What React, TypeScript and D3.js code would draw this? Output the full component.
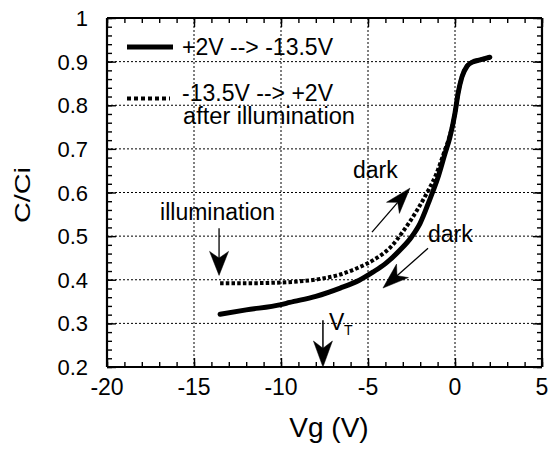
import React, { useEffect, useRef } from "react";
import * as d3 from "d3";

// Sweep +2V -> -13.5V (solid)
const solidVg = [-13.5, -12, -10, -9.5, -8, -6.6, -5.5, -4.7, -4, -3.16, -2.5, -2.0, -1.44, -1.0, -0.57, -0.29, 0, 0.18, 0.4, 0.7, 1.0, 1.44, 2.0];
const solidC = [0.321, 0.331, 0.343, 0.348, 0.362, 0.381, 0.399, 0.418, 0.437, 0.468, 0.498, 0.53, 0.585, 0.632, 0.69, 0.727, 0.782, 0.828, 0.865, 0.89, 0.899, 0.904, 0.91];

// Sweep -13.5V -> +2V after illumination (dotted)
const dotVg = [-13.5, -12, -10.5, -9, -7.6, -6.6, -5.6, -4.7, -3.7, -3.0, -2.2, -1.6, -1.1, -0.6, -0.3, 0, 0.18, 0.4, 0.7, 1.0, 1.44, 2.0];
const dotC = [0.392, 0.392, 0.393, 0.396, 0.403, 0.412, 0.427, 0.445, 0.475, 0.51, 0.558, 0.6, 0.64, 0.695, 0.73, 0.782, 0.828, 0.865, 0.89, 0.899, 0.904, 0.91];

const xTicks = [-20, -15, -10, -5, 0, 5];
const yTicks = [0.2, 0.3, 0.4, 0.5, 0.6, 0.7, 0.8, 0.9, 1];
const xGrid = [-15, -10, -5, 0];
const yGrid = [0.3, 0.4, 0.5, 0.6, 0.7, 0.8, 0.9];

const legendLabels = ["+2V --> -13.5V", "-13.5V --> +2V", "after illumination"];

const arrows = [
  [-4.77, 0.509, -2.59, 0.61],
  [-1.55, 0.472, -4.14, 0.381],
  [-13.56, 0.518, -13.56, 0.41],
  [-7.59, 0.307, -7.59, 0.2],
];
const arrowHeads = [[26, 17], [26, 18], [24, 19], [26, 19]];

const W = 555, H = 449;
const xs = d3.scaleLinear().domain([-20, 5]).range([107, 542]);
const ys = d3.scaleLinear().domain([0.2, 1]).range([367, 18]);

const FONT = "Liberation Sans, Arial, sans-serif";

function arrowPath(a: number[], head: number[]) {
  const ax = xs(a[0]), ay = ys(a[1]), bx = xs(a[2]), by = ys(a[3]);
  const ang = Math.atan2(by - ay, bx - ax);
  const L = head[0], Wd = head[1];
  const c = Math.cos(ang), s = Math.sin(ang);
  const pt = (u: number, v: number) => [bx + u * c - v * s, by + u * s + v * c];
  const p1 = pt(-L, -Wd / 2), p2 = pt(-L * 0.72, 0), p3 = pt(-L, Wd / 2);
  return {
    shaft: `M${ax},${ay}L${p2[0]},${p2[1]}`,
    head: `M${bx},${by}L${p1[0]},${p1[1]}L${p2[0]},${p2[1]}L${p3[0]},${p3[1]}Z`,
  };
}

export default function App() {
  const axRef = useRef<SVGGElement>(null);
  const [L0, R0] = xs.range();
  const [B0, T0] = ys.range();

  useEffect(() => {
    const g = d3.select(axRef.current);
    g.selectAll("*").remove();
    const styleAxis = (sel: any) => { sel.select(".domain").remove(); sel.selectAll("text").remove(); sel.selectAll("line").attr("stroke", "black").attr("stroke-width", 1.4); };
    const xMinor = d3.range(-20, 5.01, 1);
    const yMinor = d3.range(10, 51, 1).map(k => k * 0.02);
    g.append("g").attr("transform", `translate(0,${B0})`).call(d3.axisTop(xs).tickValues(xMinor).tickSize(5)).call(styleAxis);
    g.append("g").attr("transform", `translate(0,${B0})`).call(d3.axisTop(xs).tickValues(xTicks).tickSize(9)).call(styleAxis);
    g.append("g").attr("transform", `translate(0,${T0})`).call(d3.axisBottom(xs).tickValues(xMinor).tickSize(5)).call(styleAxis);
    g.append("g").attr("transform", `translate(0,${T0})`).call(d3.axisBottom(xs).tickValues(xTicks).tickSize(9)).call(styleAxis);
    g.append("g").attr("transform", `translate(${L0},0)`).call(d3.axisRight(ys).tickValues(yMinor).tickSize(5)).call(styleAxis);
    g.append("g").attr("transform", `translate(${L0},0)`).call(d3.axisRight(ys).tickValues(yTicks).tickSize(9)).call(styleAxis);
    g.append("g").attr("transform", `translate(${R0},0)`).call(d3.axisLeft(ys).tickValues(yMinor).tickSize(5)).call(styleAxis);
    g.append("g").attr("transform", `translate(${R0},0)`).call(d3.axisLeft(ys).tickValues(yTicks).tickSize(9)).call(styleAxis);
  }, []);

  const line = d3.line<[number, number]>().x(d => xs(d[0])).y(d => ys(d[1])).curve(d3.curveMonotoneX);
  const solidPts = solidVg.map((v, i) => [v, solidC[i]] as [number, number]);
  const dotPts = dotVg.map((v, i) => [v, dotC[i]] as [number, number]);

  return (
    <svg width={W} height={H} style={{ position: "absolute", left: 0, top: 0 }}>
      {xGrid.map(v => (
        <line key={"gx" + v} x1={xs(v)} x2={xs(v)} y1={T0} y2={B0} stroke="black" strokeWidth={1} strokeDasharray="2 2" />
      ))}
      {yGrid.map(v => (
        <line key={"gy" + v} x1={L0} x2={R0} y1={ys(v)} y2={ys(v)} stroke="black" strokeWidth={1} strokeDasharray="2 2" />
      ))}
      <line x1={107} x2={542} y1={18} y2={18} stroke="black" strokeWidth={2.2} />
      <line x1={107} x2={542} y1={367} y2={367} stroke="black" strokeWidth={2.2} />
      <line x1={107} x2={107} y1={18} y2={367} stroke="black" strokeWidth={2.2} />
      <line x1={542} x2={542} y1={18} y2={367} stroke="black" strokeWidth={2.2} />
      <g ref={axRef} />

      <path d={line(dotPts) || ""} fill="none" stroke="black" strokeWidth={4} strokeDasharray="3.5 2.2" />
      <path d={line(solidPts) || ""} fill="none" stroke="black" strokeWidth={5} strokeLinecap="round" />

      <g fontFamily={FONT} fill="black">
        {xTicks.map(v => (
          <text key={"tx" + v} x={xs(v)} y={395} fontSize={23} textAnchor="middle">{v}</text>
        ))}
        {yTicks.map(v => (
          <text key={"ty" + v} x={88} y={ys(v) + 8} fontSize={22} textAnchor="end">{String(v)}</text>
        ))}
        <text x={329} y={437} fontSize={28} textAnchor="middle">Vg (V)</text>
        <text transform="translate(30,195) rotate(-90)" fontSize={22} textAnchor="middle" textLength={56} lengthAdjust="spacingAndGlyphs">C/Ci</text>
        <text x={182} y={55} fontSize={23} textLength={151} lengthAdjust="spacingAndGlyphs">{legendLabels[0]}</text>
        <text x={182} y={101} fontSize={23} textLength={151} lengthAdjust="spacingAndGlyphs">{legendLabels[1]}</text>
        <text x={183} y={124} fontSize={23} textLength={172} lengthAdjust="spacingAndGlyphs">{legendLabels[2]}</text>
        <text x={xs(-5.86)} y={ys(0.633)} fontSize={23}>dark</text>
        <text x={xs(-1.55)} y={ys(0.486)} fontSize={23}>dark</text>
        <text x={xs(-16.95)} y={ys(0.537)} fontSize={23} textLength={115} lengthAdjust="spacingAndGlyphs">illumination</text>
        <text x={xs(-7.24)} y={ys(0.284)} fontSize={23}>V</text>
        <text x={xs(-7.24) + 15} y={ys(0.284) + 5} fontSize={14}>T</text>
      </g>

      <line x1={127} x2={173} y1={47} y2={47} stroke="black" strokeWidth={5} />
      <line x1={127} x2={170} y1={98.5} y2={98.5} stroke="black" strokeWidth={4} strokeDasharray="4 3" />

      {arrows.map((a, i) => {
        const p = arrowPath(a, arrowHeads[i]);
        return (
          <g key={"ar" + i}>
            <path d={p.shaft} stroke="black" strokeWidth={i === 3 ? 1.5 : 1.3} fill="none" />
            <path d={p.head} fill="black" stroke="black" strokeWidth={0.5} />
          </g>
        );
      })}
    </svg>
  );
}
